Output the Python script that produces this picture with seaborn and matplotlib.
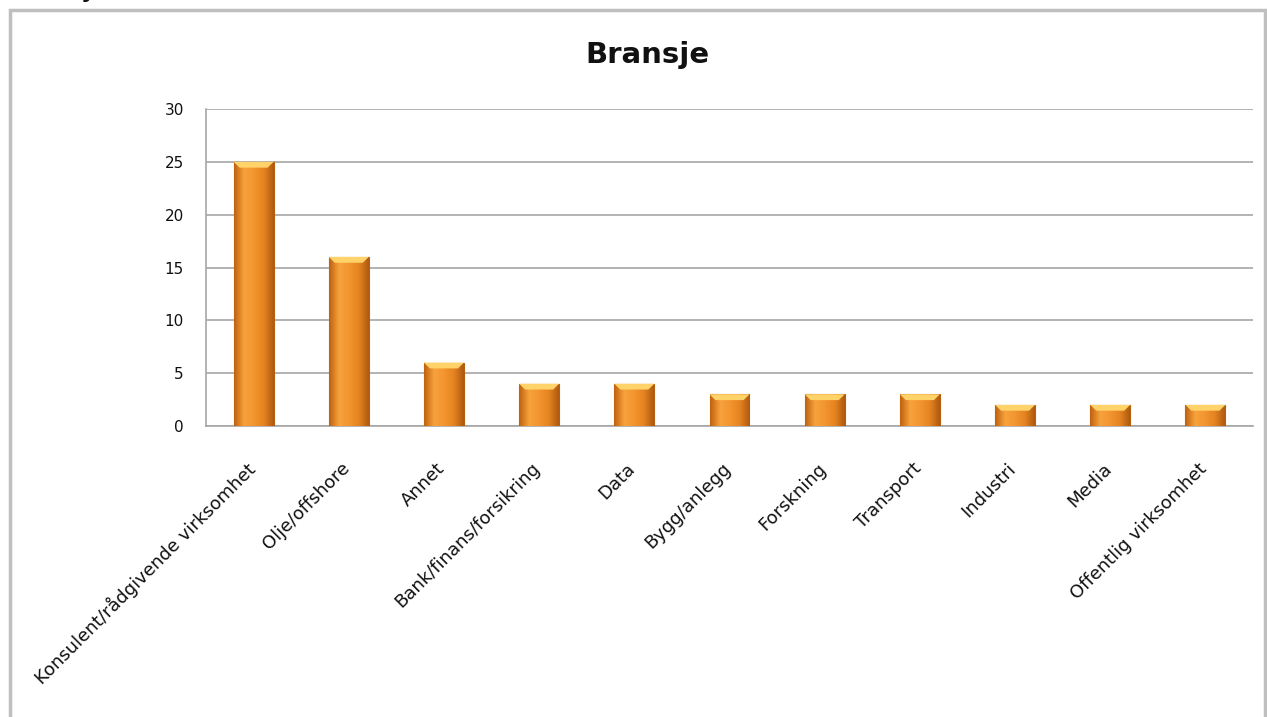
import matplotlib
matplotlib.use("Agg")
import matplotlib.pyplot as plt
import matplotlib.transforms as mtransforms
from matplotlib.colors import LinearSegmentedColormap
from matplotlib.patches import Rectangle, Polygon
import numpy as np
import pandas as pd
import seaborn as sns

categories = ["Konsulent/rådgivende virksomhet", "Olje/offshore", "Annet",
              "Bank/finans/forsikring", "Data", "Bygg/anlegg", "Forskning",
              "Transport", "Industri", "Media", "Offentlig virksomhet"]
counts = [25, 16, 6, 4, 4, 3, 3, 3, 2, 2, 2]
title = "Bransje"

df = pd.DataFrame({"bransje": categories, "antall": counts})

sns.set_theme(style="white")
plt.rcParams["font.family"] = ["DejaVu Sans"]

fig = plt.figure(figsize=(12.67, 7.17), dpi=100)
ax = fig.add_axes([206 / 1267, 1 - 426 / 717, (1253 - 206) / 1267, (426 - 109) / 717])

sns.barplot(data=df, x="bransje", y="antall", color="#F0902A", width=0.42,
            edgecolor="#B4600F", linewidth=0.8, ax=ax, zorder=3)

ax.set_ylim(0, 30)
ax.set_yticks(range(0, 31, 5))
ax.set_xlim(-0.5, len(categories) - 0.5)
ax.yaxis.grid(True, color="#A6A6A6", lw=1.2, zorder=0)
ax.set_axisbelow(True)
for s in ["top", "right"]:
    ax.spines[s].set_visible(False)
for s in ["left", "bottom"]:
    ax.spines[s].set_color("#A6A6A6")
    ax.spines[s].set_linewidth(1.2)
ax.tick_params(axis="y", length=0, pad=16, labelsize=11, labelcolor="#111")
ax.tick_params(axis="x", length=0, pad=24, labelsize=13, labelcolor="#111")
shift = mtransforms.ScaledTranslation(-8 / 100, 0, fig.dpi_scale_trans)
for lbl in ax.get_xticklabels():
    lbl.set_rotation(45)
    lbl.set_ha("right")
    lbl.set_rotation_mode("anchor")
    lbl.set_transform(lbl.get_transform() + shift)
ax.set_xlabel("")
ax.set_ylabel("")

# cylinder-like shading on each bar
shade = LinearSegmentedColormap.from_list(
    "shade", ["#C0620F", "#F7A23C", "#F39530", "#E58420", "#B05A10"])
grad = np.linspace(0, 1, 64).reshape(1, -1)
for p in list(ax.patches):
    x0, y0 = p.get_x(), p.get_y()
    w, h = p.get_width(), p.get_height()
    im = ax.imshow(grad, cmap=shade, aspect="auto", extent=[x0, x0 + w, y0, y0 + h],
                   zorder=3.5)
    im.set_clip_path(p)
    bev = 0.55
    top = Polygon([[x0, y0 + h], [x0 + w, y0 + h], [x0 + w * 0.85, y0 + h - bev],
                   [x0 + w * 0.15, y0 + h - bev]], closed=True,
                  facecolor="#FFD36A", edgecolor="none", zorder=4)
    ax.add_patch(top)
ax.set_xlim(-0.5, len(categories) - 0.5)
ax.set_ylim(0, 30)

fig.text(647 / 1267, 1 - 55 / 717, title, ha="center", va="center",
         fontsize=21, fontweight="bold", color="#111")

# chart frame
fig.patches.append(Rectangle((10 / 1267, -0.02), (1265 - 10) / 1267, 1.02 - 10 / 717,
                             transform=fig.transFigure, fill=False,
                             edgecolor="#BFBFBF", lw=2.5))
fig.text(12 / 1267, 1 + 8 / 717, title, ha="left", va="center",
         fontsize=16, fontweight="bold", color="#111")

fig.savefig("out.png", dpi=100)
